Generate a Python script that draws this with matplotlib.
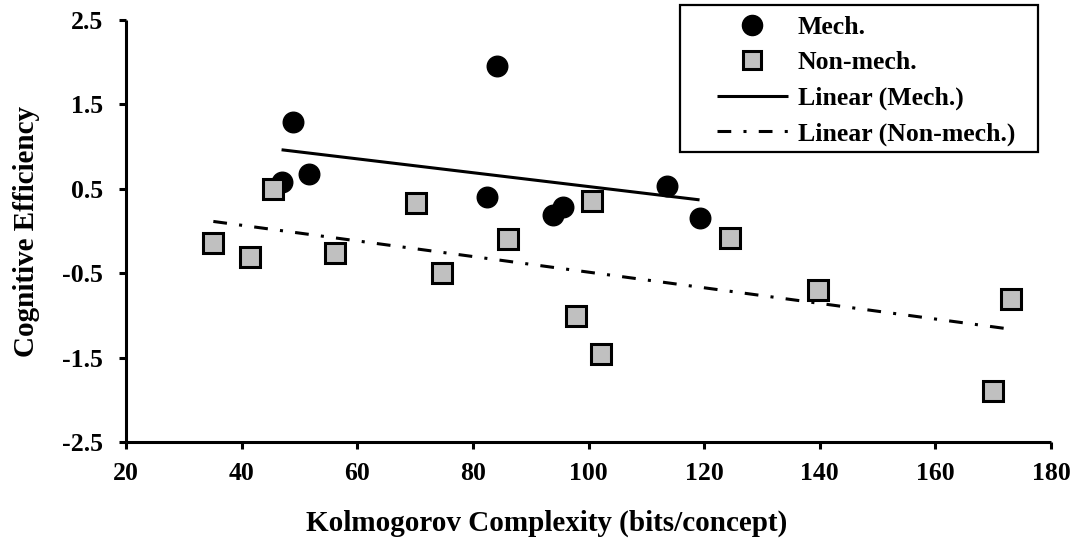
import matplotlib
matplotlib.use("Agg")
import matplotlib.pyplot as plt
import numpy as np
from matplotlib.patches import Rectangle

# Cognitive efficiency vs. Kolmogorov complexity
mech_x = [46.9, 48.9, 51.7, 82.5, 84.2, 93.8, 95.5, 113.6, 119.2]
mech_y = [0.58, 1.29, 0.68, 0.41, 1.96, 0.19, 0.29, 0.54, 0.16]

nonmech_x = [35.1, 41.5, 45.4, 56.1, 70.1, 74.7, 86.0, 97.9, 100.6, 102.2,
             124.5, 139.7, 170.0, 173.0]
nonmech_y = [-0.14, -0.31, 0.50, -0.26, 0.34, -0.49, -0.09, -1.00, 0.36, -1.45,
             -0.08, -0.70, -1.89, -0.80]

x_ticks = [20, 40, 60, 80, 100, 120, 140, 160, 180]
y_ticks = [-2.5, -1.5, -0.5, 0.5, 1.5, 2.5]
y_tick_labels = ["-2.5", "-1.5", "-0.5", "0.5", "1.5", "2.5"]

series_names = ["Mech.", "Non-mech.", "Linear (Mech.)", "Linear (Non-mech.)"]
x_title = "Kolmogorov Complexity (bits/concept)"
y_title = "Cognitive Efficiency"

plt.rcParams["font.family"] = ["Liberation Serif", "DejaVu Serif"]
plt.rcParams["font.weight"] = "bold"

fig = plt.figure(figsize=(10.8, 5.46), dpi=100)
ax = fig.add_axes([0.1167, 0.1896, 0.8565, 0.7738])


def linear_fit(x, y):
    x = np.asarray(x, dtype=float)
    y = np.asarray(y, dtype=float)
    k, b = np.polyfit(x, y, 1)
    xs = np.array([x.min(), x.max()])
    return xs, k * xs + b


mech_pts, = ax.plot(mech_x, mech_y, linestyle="none", marker="o",
                    markersize=14.8, markerfacecolor="black",
                    markeredgecolor="black", markeredgewidth=1.0, zorder=2)
non_pts, = ax.plot(nonmech_x, nonmech_y, linestyle="none", marker="s",
                   markersize=15.0, markerfacecolor="#C0C0C0",
                   markeredgecolor="black", markeredgewidth=2.2, zorder=2.5)

tx, ty = linear_fit(mech_x, mech_y)
mech_fit, = ax.plot(tx, ty, color="black", linewidth=2.2,
                    solid_capstyle="butt", zorder=3)
tx, ty = linear_fit(nonmech_x, nonmech_y)
non_fit, = ax.plot(tx, ty, color="black", linewidth=2.2,
                   linestyle=(0, (4.5, 4.0, 1.0, 4.0)),
                   dash_capstyle="butt", zorder=3)

ax.set_xlim(20, 180)
ax.set_ylim(-2.5, 2.5)
ax.set_xticks(x_ticks)
ax.set_xticklabels([str(t) for t in x_ticks])
ax.set_yticks(y_ticks)
ax.set_yticklabels(y_tick_labels)

for side in ("top", "right"):
    ax.spines[side].set_visible(False)
for side in ("left", "bottom"):
    ax.spines[side].set_linewidth(2.2)
    ax.spines[side].set_capstyle("butt")

ax.tick_params(axis="both", direction="out", length=5.2, width=2.2,
               labelsize=18.5)
ax.tick_params(axis="y", pad=11.5)
ax.tick_params(axis="x", pad=8.5)
for lab in ax.get_xticklabels() + ax.get_yticklabels():
    lab.set_fontweight("bold")

ax.set_xlabel(x_title, fontsize=21, fontweight="bold")
ax.set_ylabel(y_title, fontsize=21, fontweight="bold")
ax.xaxis.set_label_coords(0.455, -0.158)
ax.yaxis.set_label_coords(-0.093, 0.5)

leg = ax.legend([mech_pts, non_pts, mech_fit, non_fit], series_names,
                loc="upper left", bbox_to_anchor=(0.664, 0.971),
                bbox_transform=fig.transFigure, frameon=False, borderpad=0,
                borderaxespad=0, handlelength=2.75, handletextpad=0.38,
                labelspacing=0.48, prop={"size": 18.5, "weight": "bold"})
leg.set_zorder(6)
hs = leg.legend_handles
hs[0].set_markersize(14.5)
hs[1].set_markersize(12.5)
hs[1].set_markeredgewidth(2.2)

# Frame around the legend with wider side margins
fig.canvas.draw()
bb = leg.get_window_extent()
inv = fig.transFigure.inverted()
(x0, y0) = inv.transform((bb.x0 - 37, bb.y0 - 6))
(x1, y1) = inv.transform((bb.x1 + 23, bb.y1 + 11))
frame = Rectangle((x0, y0), x1 - x0, y1 - y0, transform=fig.transFigure,
                  fill=True, facecolor="white", edgecolor="black",
                  linewidth=1.6, zorder=5, clip_on=False)
ax.add_artist(frame)

fig.savefig("out.png", dpi=100)
